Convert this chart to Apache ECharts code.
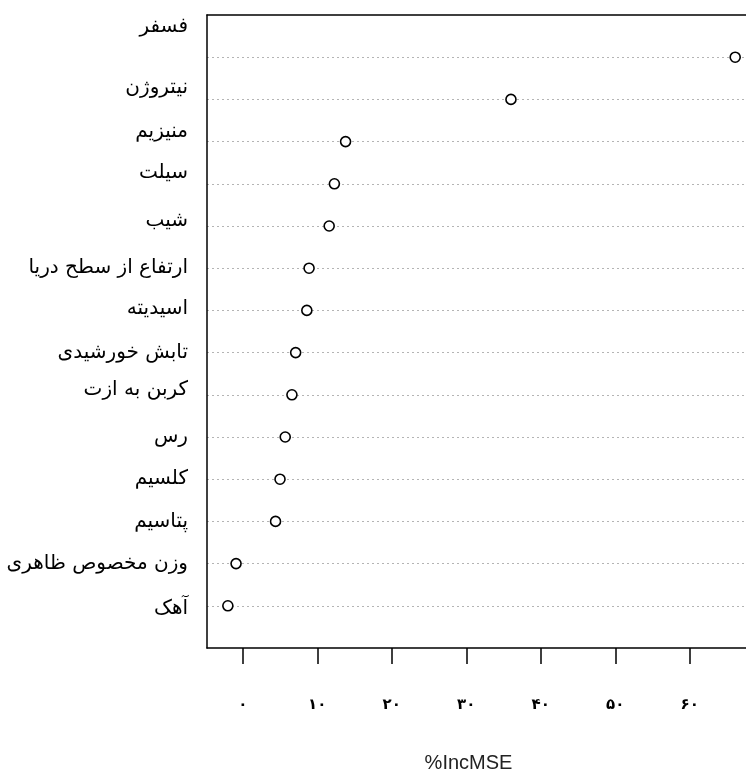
<!DOCTYPE html>
<html>
<head>
<meta charset="utf-8">
<title>%IncMSE</title>
<script src="https://cdn.jsdelivr.net/npm/echarts@6/dist/echarts.min.js"></script>
<style>
  html, body { margin: 0; padding: 0; background: #fff; }
  #chart { width: 746px; height: 774px; }
</style>
</head>
<body>
<div id="chart"></div>
<script>
// Variable importance (%IncMSE), most important at the top
const variables = [
  'فسفر', 'نیتروژن', 'منیزیم', 'سیلت', 'شیب', 'ارتفاع از سطح دریا', 'اسیدیته',
  'تابش خورشیدی', 'کربن به ازت', 'رس', 'کلسیم', 'پتاسیم', 'وزن مخصوص ظاهری', 'آهک'
];
const incMSE = [66.1, 36.0, 13.8, 12.3, 11.6, 8.9, 8.6, 7.1, 6.6, 5.7, 5.0, 4.4, -0.9, -2.0];
const xTicks = [0, 10, 20, 30, 40, 50, 60];

// vertical nudge (px, negative = up) of each row label
const labelShift = [-30, -12, -10, -11, -5, 0, -2, 0, -5, 0, 0, 0, 0, 3];

const persianDigits = '۰۱۲۳۴۵۶۷۸۹';
const toPersian = n => String(n).replace(/\d/g, d => persianDigits[d]);

// one empty slot above and below so rows sit a full step inside the box
const yCats = [''].concat(variables, ['']);

const rich = {};
labelShift.forEach((s, i) => {
  const pad = Math.abs(s) * 2;
  rich['r' + (i + 1)] = {
    fontFamily: 'DejaVu Sans',
    fontSize: 20,
    color: '#000',
    padding: s < 0 ? [0, 0, pad, 0] : [pad, 0, 0, 0]
  };
});

const boxLine = { show: true, onZero: false, lineStyle: { color: '#000', width: 1.5 } };

const chart = echarts.init(document.getElementById('chart'), null, { renderer: 'canvas' });
chart.setOption({
  animation: false,
  backgroundColor: '#fff',
  grid: { left: 207, top: 15, bottom: 126, right: 0, outerBoundsMode: 'none', containLabel: false },
  xAxis: [{
    type: 'value',
    min: -4.8,
    max: 67.55,
    name: '%IncMSE',
    nameLocation: 'middle',
    nameGap: 105,
    nameTextStyle: {
      fontFamily: 'Liberation Sans', fontSize: 20, color: '#222', padding: [0, 16, 0, 0]
    },
    axisLine: boxLine,
    axisTick: {
      show: true, length: 16, customValues: xTicks,
      lineStyle: { color: '#000', width: 1.5 }
    },
    axisLabel: {
      customValues: xTicks,
      margin: 50,
      fontFamily: 'DejaVu Sans',
      fontWeight: 'bold',
      fontSize: 15,
      color: '#000',
      formatter: v => toPersian(v)
    },
    splitLine: { show: false }
  }, {
    // top edge of the box
    type: 'value',
    position: 'top',
    min: -4.8,
    max: 67.55,
    axisLine: boxLine,
    axisTick: { show: false },
    axisLabel: { show: false },
    splitLine: { show: false }
  }],
  yAxis: {
    type: 'category',
    data: yCats,
    inverse: true,
    boundaryGap: false,
    axisLine: boxLine,
    axisTick: { show: false },
    axisLabel: {
      interval: 0,
      margin: 19,
      formatter: (v, i) => v ? '{r' + i + '|' + v + '}' : '',
      rich: rich
    },
    splitLine: {
      show: true,
      interval: i => i > 0 && i < yCats.length - 1,
      lineStyle: { color: '#b4b4b4', width: 1, type: [2, 3] }
    }
  },
  series: [{
    type: 'scatter',
    data: incMSE.map((v, i) => [v, variables[i]]),
    symbol: 'circle',
    symbolSize: 10,
    itemStyle: { color: '#fff', borderColor: '#000', borderWidth: 1.6, opacity: 1 },
    emphasis: { disabled: true },
    z: 5
  }]
});
</script>
</body>
</html>
